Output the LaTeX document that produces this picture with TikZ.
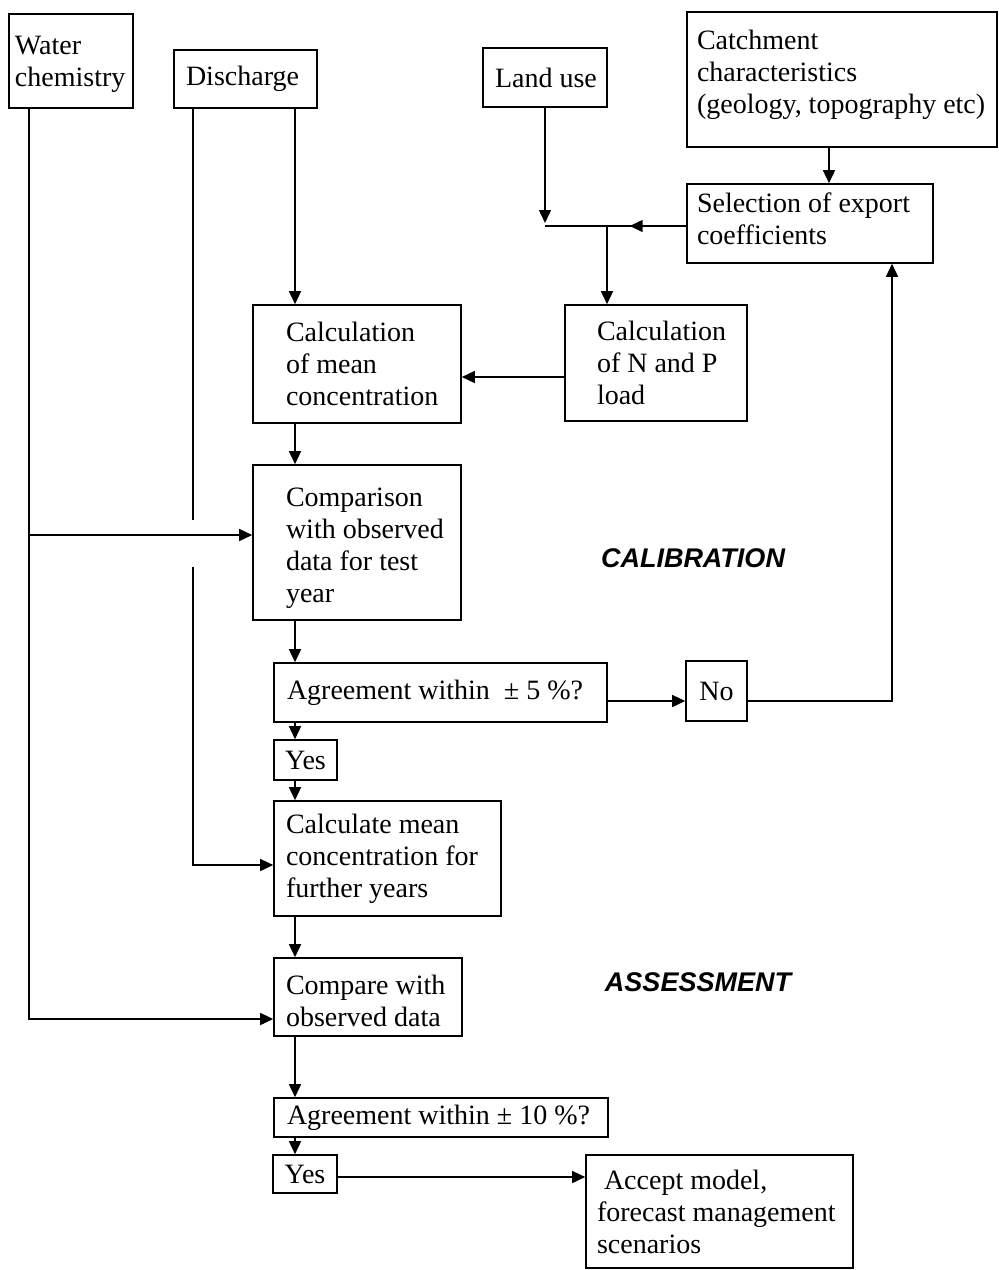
\documentclass[tikz,border=0pt]{standalone}
\usepackage{fontspec}
\setmainfont{Liberation Serif}
\newfontfamily\lblfont{Liberation Sans}
\usetikzlibrary{arrows.meta,decorations.markings}
\newlength\indamt
\newcommand\bxind{\hspace*{\indamt}}
\begin{document}
\begin{tikzpicture}[x=1pt,y=-1pt,
  box/.style={draw, line width=1.6pt, inner xsep=0pt, inner ysep=0pt, align=flush left,
    font=\fontsize{28}{32}\selectfont},
  ind/.style={execute at begin node={\setlength{\indamt}{#1}}},
  conn/.style={line width=1.5pt},
  arr/.style={conn, -{Triangle[length=13pt,width=12pt]}},
  midarr/.style={conn, decoration={markings, mark=at position #1 with {\arrow{Triangle[length=13pt,width=12pt]}}}, postaction={decorate}},
  phase/.style={font=\lblfont\bfseries\itshape\fontsize{27}{30}\selectfont}
]
\useasboundingbox (0,0) rectangle (999,1270);

% boxes
\node[box, ind=6pt, minimum width=124pt, minimum height=94pt, text width=124pt, text depth=32pt] (water) at (71,61) {\bxind Water\\\bxind chemistry};
\node[box, ind=12pt, minimum width=143pt, minimum height=58pt, text width=143pt] (discharge) at (245.5,79) {\bxind Discharge};
\node[box, ind=12pt, minimum width=124pt, minimum height=59pt, text width=124pt] (landuse) at (545,77.5) {\bxind Land use};
\node[box, ind=10pt, minimum width=310pt, minimum height=135pt, text width=310pt, text depth=80pt] (catch) at (842,79.5) {\bxind Catchment\\\bxind characteristics\\\bxind (geology, topography etc)};
\node[box, ind=10pt, minimum width=246pt, minimum height=79pt, text width=246pt, text depth=42pt] (sel) at (810,223.5) {\bxind Selection of export\\\bxind coefficients};
\node[box, ind=32pt, minimum width=182pt, minimum height=116pt, text width=182pt] (np) at (656,363) {\bxind Calculation\\\bxind of N and P\\\bxind load};
\node[box, ind=33pt, minimum width=208pt, minimum height=118pt, text width=208pt] (mean) at (357,364) {\bxind Calculation\\\bxind of mean\\\bxind concentration};
\node[box, ind=33pt, minimum width=208pt, minimum height=155pt, text width=208pt, text depth=90pt] (comparison) at (357,542.5) {\bxind Comparison\\\bxind with observed\\\bxind data for test\\\bxind year};
\node[box, ind=13pt, minimum width=333pt, minimum height=59pt, text width=333pt] (agree5) at (440.5,692.5) {\bxind Agreement within\ \ ± 5 \%?};
\node[box, minimum width=61pt, minimum height=60pt] (no) at (716.5,691) {No};
\node[box, minimum width=63pt, minimum height=40pt] (yes1) at (305.5,760) {Yes};
\node[box, ind=12pt, minimum width=227pt, minimum height=115pt, text width=227pt] (calc) at (387.5,858.5) {\bxind Calculate mean\\\bxind concentration for\\\bxind further years};
\node[box, ind=12pt, minimum width=188pt, minimum height=78pt, text width=188pt, text depth=24pt] (compare) at (368,997) {\bxind Compare with\\\bxind observed data};
\node[box, ind=13pt, minimum width=334pt, minimum height=39pt, text width=334pt] (agree10) at (441,1117.5) {\bxind Agreement within ± 10 \%?};
\node[box, minimum width=64pt, minimum height=38pt] (yes2) at (305,1174) {Yes};
\node[box, ind=11pt, minimum width=267pt, minimum height=113pt, text width=267pt] (accept) at (719.5,1211.5) {\bxind\hspace*{7pt}Accept model,\\\bxind forecast management\\\bxind scenarios};

% phase labels
\node[phase] (calib) at (693,558) {CALIBRATION};
\node[phase] (assess) at (698,982) {ASSESSMENT};

% water chemistry feed
\coordinate (wmid) at (29,535);
\coordinate (wbot) at (29,1019);
\draw[arr] (water.south -| wbot) -- (wbot) -- (wbot -| compare.west);
\draw[arr] (wmid) -- (wmid -| comparison.west);

% discharge feed (left, with gap at crossing)
\coordinate (dgapA) at (193,520);
\coordinate (dgapB) at (193,567);
\coordinate (dbot) at (193,865);
\draw[conn] (discharge.south -| dgapA) -- (dgapA);
\draw[arr] (dgapB) -- (dbot) -- (dbot -| calc.west);

% main spine
\coordinate (spine) at (295,0);
\draw[arr] (discharge.south -| spine) -- (mean.north -| spine);
\draw[arr] (mean.south -| spine) -- (comparison.north -| spine);
\draw[arr] (comparison.south -| spine) -- (agree5.north -| spine);
\draw[arr] (agree5.south -| spine) -- (yes1.north -| spine);
\draw[arr] (yes1.south -| spine) -- (calc.north -| spine);
\draw[arr] (calc.south -| spine) -- (compare.north -| spine);
\draw[arr] (compare.south -| spine) -- (agree10.north -| spine);
\draw[arr] (agree10.south -| spine) -- (yes2.north -| spine);

% land use / export coefficients junction
\coordinate (jL) at (545,226);
\coordinate (jN) at (607,226);
\draw[arr] (landuse.south) -- ([yshift=3pt]jL);
\draw[midarr=0.4] (jL -| sel.west) -- (jL);
\draw[arr] (jN) -- (np.north -| jN);

% catchment -> selection
\coordinate (cc) at (829,0);
\draw[arr] (catch.south -| cc) -- (sel.north -| cc);

% N and P load -> mean concentration
\coordinate (nm) at (0,377);
\draw[arr] (np.west |- nm) -- (mean.east |- nm);

% agreement 5% -> No -> back to selection
\coordinate (an) at (0,701);
\draw[arr] (agree5.east |- an) -- (no.west |- an);
\coordinate (ret) at (892,701);
\draw[arr] (no.east |- ret) -- (ret) -- (sel.south -| ret);

% Yes -> accept
\coordinate (ya) at (0,1177);
\draw[arr] (yes2.east |- ya) -- (accept.west |- ya);
\end{tikzpicture}
\end{document}
